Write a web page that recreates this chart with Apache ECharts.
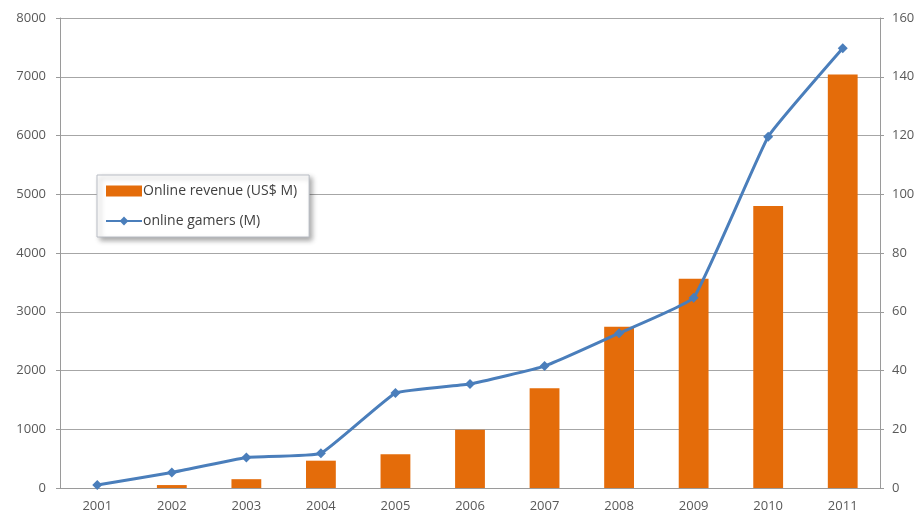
<!DOCTYPE html>
<html>
<head>
<meta charset="utf-8">
<script src="https://cdn.jsdelivr.net/npm/echarts@6/dist/echarts.min.js"></script>
<style>
  html, body { margin: 0; padding: 0; background: #fff; }
  #chart { width: 923px; height: 517px; }
</style>
</head>
<body>
<div id="chart"></div>
<script>
// Years on the category axis
var years = ['2001', '2002', '2003', '2004', '2005', '2006', '2007', '2008', '2009', '2010', '2011'];
// Online revenue, US$ millions (left axis)
var revenue = [0, 50, 150, 465, 575, 990, 1700, 2745, 3560, 4800, 7040];
// Online gamers, millions (right axis)
var gamers = [1, 5.3, 10.4, 11.8, 32.3, 35.4, 41.5, 52.7, 64.8, 119.6, 149.7];

var chart = echarts.init(document.getElementById('chart'), null, { renderer: 'canvas' });

var labelStyle = { color: '#595959', fontSize: 13, fontFamily: 'Open Sans, sans-serif' };
var plain = function (v) { return String(v); };

chart.setOption({
  animation: false,
  backgroundColor: '#ffffff',
  grid: { left: 60, right: 43, top: 18, bottom: 29, containLabel: false },
  legend: {
    orient: 'vertical',
    left: 97,
    top: 175,
    padding: [9, 12, 9, 8],
    itemGap: 16,
    itemWidth: 36,
    itemHeight: 11,
    backgroundColor: '#ffffff',
    borderColor: '#b8bcc4',
    borderWidth: 1,
    shadowColor: 'rgba(0,0,0,0.35)',
    shadowBlur: 5,
    shadowOffsetX: 3,
    shadowOffsetY: 3,
    textStyle: { color: '#404040', fontSize: 14, fontFamily: 'Open Sans, sans-serif', padding: [0, 0, 0, -4] },
    data: [
      { name: 'Online revenue (US$ M)', icon: 'rect' },
      { name: 'online gamers (M)' }
    ]
  },
  xAxis: {
    type: 'category',
    data: years,
    axisLine: { lineStyle: { color: '#9a9a9a', width: 1 } },
    axisTick: { show: false },
    axisLabel: Object.assign({ margin: 12 }, labelStyle)
  },
  yAxis: [
    {
      type: 'value',
      min: 0,
      max: 8000,
      interval: 1000,
      axisLine: { show: true, lineStyle: { color: '#9a9a9a' } },
      axisTick: { show: true, length: 4, lineStyle: { color: '#9a9a9a' } },
      splitLine: { lineStyle: { color: '#a6a6a6', width: 1 } },
      axisLabel: Object.assign({ margin: 14, formatter: plain }, labelStyle)
    },
    {
      type: 'value',
      min: 0,
      max: 160,
      interval: 20,
      position: 'right',
      axisLine: { show: true, lineStyle: { color: '#9a9a9a' } },
      axisTick: { show: true, length: 4, lineStyle: { color: '#9a9a9a' } },
      splitLine: { show: false },
      axisLabel: Object.assign({ margin: 12, formatter: plain }, labelStyle)
    }
  ],
  series: [
    {
      name: 'Online revenue (US$ M)',
      type: 'bar',
      yAxisIndex: 0,
      data: revenue,
      barWidth: '40%',
      itemStyle: { color: '#e46c0a' }
    },
    {
      name: 'online gamers (M)',
      type: 'line',
      yAxisIndex: 1,
      data: gamers,
      smooth: 0.1,
      symbol: 'diamond',
      symbolSize: 10,
      lineStyle: { color: '#4a7ebb', width: 3 },
      itemStyle: { color: '#4a7ebb' },
      z: 3
    }
  ]
});
</script>
</body>
</html>
